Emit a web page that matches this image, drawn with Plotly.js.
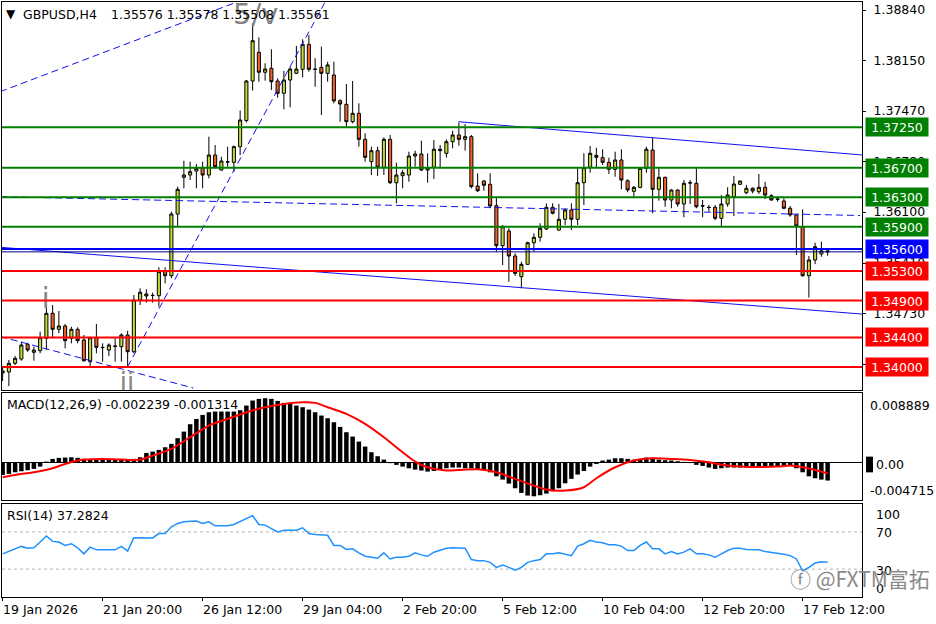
<!DOCTYPE html>
<html><head><meta charset="utf-8">
<script src="https://cdn.plot.ly/plotly-3.0.1.min.js"></script>
<style>html,body{margin:0;padding:0;background:#fff;}#chart{width:936px;height:624px;}</style>
</head><body><div id="chart"></div>
<script>
// ---------- data ----------
const symbolText = 'GBPUSD,H4';
const quoteText = '1.35576 1.35578 1.35508 1.35561';

const open = [1.33919,1.33932,1.3405,1.34108,1.34308,1.34199,1.34221,1.34389,1.34728,1.34511,
1.34556,1.34389,1.34511,1.34366,1.34072,1.34397,1.34267,1.3423,1.34285,1.34275,
1.34434,1.34207,1.34908,1.3499,1.34972,1.34967,1.35292,1.35238,1.36074,1.36572,
1.36603,1.36657,1.36702,1.36603,1.36874,1.36671,1.36784,1.36775,1.36987,1.37342,
1.37878,1.38267,1.37996,1.3805,1.37878,1.37711,1.37891,1.37982,1.38036,1.38375,
1.3804,1.38063,1.37982,1.37959,1.37611,1.37562,1.37326,1.3744,1.37087,1.36784,
1.36933,1.36708,1.37087,1.36499,1.36594,1.36603,1.36861,1.36888,1.36671,1.36708,
1.36952,1.36897,1.37055,1.37146,1.37087,1.37123,1.36454,1.36522,1.36477,1.36187,
1.35645,1.35844,1.35505,1.35224,1.35392,1.35685,1.35758,1.35871,1.36165,1.35857,
1.36003,1.36129,1.36003,1.36499,1.36708,1.3687,1.36838,1.36775,1.3668,1.36807,
1.36526,1.36382,1.36436,1.36694,1.36942,1.36409,1.36572,1.36264,1.364,1.3621,
1.36499,1.36491,1.36187,1.36165,1.36165,1.36016,1.3621,1.36309,1.36477,1.36363,
1.36423,1.36377,1.36436,1.36323,1.36278,1.36251,1.36152,1.36061,1.35902,1.35238,
1.35451,1.35532,1.35576];

const high = [1.34013,1.34095,1.34149,1.34343,1.34329,1.34275,1.34479,1.3484,1.3484,1.34759,
1.34583,1.34546,1.34538,1.34434,1.34411,1.34583,1.34321,1.34321,1.34389,1.34457,
1.34492,1.34976,1.35067,1.35053,1.35007,1.35352,1.35352,1.36106,1.36445,1.36797,
1.36784,1.36752,1.36784,1.37123,1.3701,1.36851,1.36987,1.37003,1.37478,1.37891,
1.3866,1.3847,1.38118,1.38308,1.37914,1.38013,1.38072,1.38352,1.38443,1.38501,
1.38186,1.38343,1.38139,1.38139,1.3763,1.37837,1.37878,1.37575,1.37169,1.36987,
1.36987,1.37114,1.37146,1.3677,1.36671,1.36919,1.36933,1.37068,1.36897,1.37078,
1.3701,1.37087,1.37204,1.37312,1.37295,1.37146,1.36626,1.36535,1.36626,1.36309,
1.35925,1.35881,1.35542,1.35428,1.35699,1.35813,1.35948,1.36219,1.36219,1.3621,
1.36152,1.36219,1.36708,1.36897,1.36996,1.36973,1.36952,1.36838,1.36919,1.36952,
1.36545,1.36454,1.36698,1.36987,1.37114,1.36694,1.3658,1.36409,1.36409,1.36535,
1.36535,1.36694,1.36264,1.36196,1.36196,1.36332,1.36436,1.3659,1.36526,1.36468,
1.36436,1.36617,1.36512,1.36342,1.36309,1.36287,1.36183,1.36074,1.36138,1.35505,
1.35685,1.35699,1.35578];

const low = [1.3381,1.33742,1.34027,1.34085,1.34207,1.34085,1.34186,1.3423,1.34389,1.34457,
1.34253,1.34321,1.34321,1.34072,1.34004,1.34186,1.34072,1.34149,1.34072,1.34072,
1.34004,1.34186,1.3484,1.34872,1.34872,1.34818,1.35135,1.35203,1.35902,1.36423,
1.36535,1.36423,1.36423,1.36558,1.36694,1.36662,1.36716,1.36648,1.36874,1.37315,
1.37749,1.37868,1.37882,1.37756,1.37651,1.37494,1.37521,1.37973,1.37928,1.38004,
1.378,1.37417,1.37868,1.37575,1.37326,1.37258,1.37304,1.36987,1.36784,1.36603,
1.3659,1.36603,1.36481,1.36219,1.36423,1.36512,1.36716,1.36657,1.36499,1.36549,
1.36708,1.36838,1.36965,1.37001,1.36933,1.36423,1.36373,1.3639,1.36152,1.35563,
1.35383,1.35156,1.35234,1.35067,1.35383,1.35563,1.35699,1.35857,1.3607,1.35848,
1.35925,1.35857,1.35925,1.36196,1.36634,1.36708,1.36739,1.36617,1.3658,1.36409,
1.36369,1.36301,1.36423,1.36634,1.36084,1.36255,1.36173,1.36152,1.36173,1.3603,
1.3621,1.36152,1.3603,1.36106,1.3599,1.35902,1.36173,1.36047,1.36468,1.36342,
1.36355,1.36346,1.36278,1.36255,1.36241,1.36138,1.36038,1.35519,1.35224,1.3494,
1.35396,1.35495,1.35508];

const close = [1.33946,1.3405,1.34118,1.34298,1.3423,1.3423,1.34397,1.34728,1.34511,1.34556,
1.34357,1.34511,1.34357,1.34085,1.34397,1.34267,1.34263,1.34298,1.34281,1.34434,
1.34207,1.34908,1.35013,1.34963,1.34969,1.35292,1.35238,1.36074,1.36409,1.36603,
1.36648,1.36694,1.36603,1.36874,1.36716,1.36793,1.36779,1.36987,1.37349,1.37878,
1.38424,1.37996,1.3804,1.37868,1.37711,1.37891,1.3804,1.3804,1.38375,1.38036,
1.38036,1.37982,1.38095,1.37607,1.37566,1.37326,1.3744,1.37087,1.36843,1.36933,
1.36708,1.37087,1.36499,1.36603,1.36634,1.36861,1.36888,1.36671,1.36694,1.36952,
1.36933,1.37055,1.37146,1.37087,1.37123,1.36445,1.3639,1.36464,1.36183,1.35645,
1.35902,1.35505,1.3527,1.35392,1.35685,1.35758,1.35881,1.36165,1.36084,1.36003,
1.36129,1.36003,1.36499,1.36702,1.36897,1.36843,1.36775,1.3668,1.36807,1.36535,
1.364,1.36436,1.36694,1.36952,1.36409,1.36572,1.36264,1.364,1.3621,1.36491,
1.36495,1.36173,1.36183,1.36162,1.36016,1.3621,1.36332,1.36481,1.36522,1.36423,
1.36386,1.36436,1.36332,1.36264,1.36275,1.36152,1.36061,1.35912,1.35238,1.35451,
1.35631,1.35575,1.35561];

const macdHist = [-0.00153,-0.0014,-0.00119,-0.00106,-0.00093,-0.00076,-0.00047,0.00017,0.00051,0.00064,
0.00068,0.00072,0.00064,0.00051,0.00047,0.00042,0.00042,0.00042,0.00038,0.00042,
0.00042,0.00051,0.00072,0.00127,0.00144,0.00165,0.00199,0.00242,0.00314,0.00398,
0.00492,0.00559,0.0061,0.00644,0.00653,0.00653,0.00653,0.00653,0.0067,0.00729,
0.00793,0.00814,0.00822,0.00814,0.00788,0.00763,0.0075,0.00729,0.00708,0.00678,
0.00644,0.00602,0.00568,0.00517,0.00458,0.0039,0.00335,0.00271,0.00208,0.00136,
0.00085,0.00042,-0.00003,-0.00025,-0.00047,-0.00068,-0.00085,-0.00097,-0.0011,-0.00102,
-0.00081,-0.00068,-0.00059,-0.00059,-0.00068,-0.00068,-0.00076,-0.00093,-0.00119,-0.0017,
-0.00212,-0.00263,-0.00322,-0.00381,-0.00415,-0.00424,-0.00411,-0.0039,-0.0036,-0.00322,
-0.00259,-0.00203,-0.00148,-0.00102,-0.00047,-0.00013,0.0003,0.00042,0.00059,0.00059,
0.00051,0.00042,0.00051,0.00068,0.00059,0.00042,0.00034,0.0003,0.00021,0.00013,
-0.00002,-0.00025,-0.00038,-0.00059,-0.00076,-0.00068,-0.00059,-0.00059,-0.00059,-0.00059,
-0.00051,-0.00042,-0.00042,-0.00042,-0.00042,-0.00034,-0.00038,-0.00068,-0.00119,-0.0017,
-0.00195,-0.00212,-0.002239];

const signalBars = [0,2,5,8,10,13,16,19,22,24,27,30,33,36,39,42,45,48,50,52,55,58,61,64,66,68,71,73,76,79,82,85,87,90,93,95,98,101,104,107,110,113,116,119,121,124,126,128,130,132];
const signalVals = [-0.00182,-0.00153,-0.00119,-0.00068,-0.00013,0.00042,0.00051,0.00042,0.00042,0.00093,0.00178,0.00326,0.00475,0.00559,0.00644,0.00708,0.0075,0.00771,0.00763,0.00708,0.00623,0.00496,0.00326,0.00136,0.00017,-0.00055,-0.00097,-0.00089,-0.00081,-0.00119,-0.00203,-0.00288,-0.00339,-0.00352,-0.00309,-0.00195,-0.00055,0.0003,0.00059,0.00051,0.00038,0.00008,-0.00034,-0.00051,-0.00051,-0.00047,-0.00034,-0.00055,-0.00089,-0.001314];

const rsi = [46.4,48.9,51.8,54.4,52.5,52.9,59.1,65.6,59.8,59.1,
55.5,57.3,52.9,46.4,53.6,50.7,50.7,50.7,50.7,54.4,
49.3,63.8,63.5,63.5,63.5,68.2,68.2,75.5,79.1,80.9,
81.6,81.6,79.1,80.9,76.5,76.5,76.5,78,80.9,83.8,
87.5,78,77.3,73.6,70,71.8,71.8,71.8,74.4,68.2,
67.1,66.4,66.4,55.5,55.5,51.1,51.8,47.5,43.8,42.7,
41.6,47.5,40.9,42.7,42.7,43.8,47.5,45.3,43.8,48.2,
50,52.5,52.9,52.9,52.5,40.2,39.1,39.1,37.3,31.8,
34.4,31.8,28.9,31.8,37.3,39.1,40.2,46.4,46.4,47.5,
46.4,44.5,54.7,57.3,60.9,59.1,58.4,56.2,56.2,54.7,
50,50,55.5,59.1,51.8,51.8,46.4,48.9,46.4,48.2,
51.8,46.4,46.4,45.3,42.7,46.4,50,52.5,52.5,51.1,
50.7,50.7,48.9,48.2,47.5,46,44.5,40.9,28.2,31.8,
36.5,38,37.2824];

const tickBars = [0,16,32,48,64,80,96,112,128];
const tickLabels = ['19 Jan 2026','21 Jan 20:00','26 Jan 12:00','29 Jan 04:00','2 Feb 20:00','5 Feb 12:00','10 Feb 04:00','12 Feb 20:00','17 Feb 12:00'];
const priceTicks = [1.3884,1.3815,1.3747,1.3678,1.361,1.3541,1.3473,1.3404];

const levels = [1.3725,1.367,1.363,1.359,1.356,1.353,1.349,1.344,1.34];
const levelColors = ['#008000','#008000','#008000','#008000','#0000ff','#ff0000','#ff0000','#ff0000','#ff0000'];

// trend lines: [bar0, bar1], [price0, price1], dashed?
const trendBars = [[-0.4,37.5],[20,51.6],[-0.4,30.5],[-0.4,137.5],[72.9,137.6],[-0.4,137.2]];
const trendPrices = [[1.37733,1.38949],[1.34004,1.3895],[1.34413,1.33715],[1.35623,1.34718],[1.37326,1.36874],[1.36309,1.36054]];
const trendDashed = [true,true,true,false,false,true];

const waveLabels = ['5/v','i','ii'];
const waveBars = [40.5,6.9,19.9];
const wavePrices = [1.38746,1.34894,1.33769];
const waveSizes = [29,28,26];

const macdLabel = 'MACD(12,26,9) -0.002239 -0.001314';
const rsiLabel = 'RSI(14) 37.2824';
const macdAxis = [0.008889,0,-0.004715];
const macdAxisText = ['0.008889','0.00','-0.004715'];
const rsiAxis = [100,70,30,0];
const rsiLevels = [70,30];

// ---------- build ----------
const FONT = 'DejaVu Sans';
const FS = 12.5;
const idx = close.map((_, i) => i);
const last = close[close.length - 1];

const traces = [];
traces.push({
  type: 'candlestick', x: idx, open: open, high: high, low: low, close: close,
  xaxis: 'x', yaxis: 'y', hoverinfo: 'skip',
  increasing: {fillcolor: '#c8da3a', line: {color: '#000', width: 1}},
  decreasing: {fillcolor: '#f0642a', line: {color: '#000', width: 1}},
  whiskerwidth: 0
});
trendBars.forEach((b, k) => {
  traces.push({type: 'scatter', mode: 'lines', x: b, y: trendPrices[k], xaxis: 'x', yaxis: 'y',
    hoverinfo: 'skip', line: {color: '#1010f0', width: 1, dash: trendDashed[k] ? '7px,4px' : 'solid'}});
});
traces.push({type: 'scatter', mode: 'text', x: waveBars, y: wavePrices, text: waveLabels,
  textposition: 'middle center', cliponaxis: true, xaxis: 'x', yaxis: 'y', hoverinfo: 'skip',
  textfont: {family: FONT, size: waveSizes, color: '#858585'}});
traces.push({type: 'bar', x: idx, y: macdHist, xaxis: 'x2', yaxis: 'y2', width: 0.72,
  marker: {color: '#000', line: {width: 0}}, hoverinfo: 'skip'});
traces.push({type: 'scatter', mode: 'lines', x: signalBars, y: signalVals, xaxis: 'x2', yaxis: 'y2',
  line: {color: '#ff0000', width: 2, shape: 'spline', smoothing: 0.8}, hoverinfo: 'skip'});
traces.push({type: 'scatter', mode: 'lines', x: idx, y: rsi, xaxis: 'x3', yaxis: 'y3',
  line: {color: '#1e90ff', width: 1.5}, hoverinfo: 'skip'});

const shapes = [];
levels.forEach((lv, k) => {
  shapes.push({type: 'line', xref: 'paper', x0: 0, x1: 1, yref: 'y', y0: lv, y1: lv, layer: 'above',
    line: {color: levelColors[k], width: 2}});
});
shapes.push({type: 'line', xref: 'paper', x0: 0, x1: 1, yref: 'y', y0: last, y1: last, layer: 'above',
  line: {color: '#000080', width: 1}});
rsiLevels.forEach(v => {
  shapes.push({type: 'line', xref: 'paper', x0: 0, x1: 1, yref: 'y3', y0: v, y1: v, layer: 'below',
    line: {color: '#b4b4b4', width: 1, dash: 'dot'}});
});
// current MACD value marker box behind the zero label
shapes.push({type: 'rect', xref: 'paper', x0: 1.0047, x1: 1.0128, yref: 'y2', y0: -0.0012, y1: 0.0008,
  fillcolor: '#000', line: {width: 0}, layer: 'above'});

const annotations = [];
const txt = (text, o) => Object.assign({text: text, showarrow: false, font: {family: FONT, size: FS, color: '#000'}}, o);
annotations.push(txt('\u25BC', {xref: 'paper', x: 0, xanchor: 'left', xshift: 2, yref: 'paper', y: 1, yanchor: 'top', yshift: -3, font: {family: FONT, size: 12, color: '#000'}}));
annotations.push(txt(symbolText, {xref: 'paper', x: 0, xanchor: 'left', xshift: 19, yref: 'paper', y: 1, yanchor: 'top', yshift: -3}));
annotations.push(txt(quoteText, {xref: 'paper', x: 0, xanchor: 'left', xshift: 107, yref: 'paper', y: 1, yanchor: 'top', yshift: -3}));
annotations.push(txt(macdLabel, {xref: 'paper', x: 0, xanchor: 'left', xshift: 3, yref: 'paper', y: 0.3429, yanchor: 'top', yshift: -2}));
annotations.push(txt(rsiLabel, {xref: 'paper', x: 0, xanchor: 'left', xshift: 3, yref: 'paper', y: 0.1563, yanchor: 'top', yshift: -2}));
levels.forEach((lv, k) => {
  annotations.push(txt(lv.toFixed(5), {xref: 'paper', x: 1, xanchor: 'left', xshift: 3, yref: 'y', y: lv, yanchor: 'middle',
    bgcolor: levelColors[k], borderpad: 2, width: 58, height: 14, align: 'center', font: {family: FONT, size: FS, color: '#fff'}}));
});
const macdShift = [-13, -2, 10];
macdAxis.forEach((v, k) => {
  annotations.push(txt(macdAxisText[k], {xref: 'paper', x: 1, xanchor: 'left', xshift: k === 1 ? 12 : 6, yref: 'y2', y: v, yanchor: 'middle', yshift: macdShift[k]}));
});
const rsiShift = [-10, -1, -1, 9];
rsiAxis.forEach((v, k) => {
  annotations.push(txt(String(v), {xref: 'paper', x: 1, xanchor: 'left', xshift: 12, yref: 'y3', y: v, yanchor: 'middle', yshift: rsiShift[k]}));
});
tickBars.forEach((b, k) => {
  annotations.push(txt(tickLabels[k], {xref: 'x3', x: b, xanchor: 'left', xshift: -2, yref: 'paper', y: 0, yanchor: 'top', yshift: -3}));
});
annotations.push({text: '\u24D5 @FXTM富拓', showarrow: false, xref: 'paper', x: 1, xanchor: 'right', xshift: 70, yref: 'paper', y: 0, yanchor: 'bottom', yshift: 2,
  font: {family: 'Noto Sans CJK SC', size: 21, color: '#8a8a8a'}});

const axBase = {showgrid: false, zeroline: false, showline: true, mirror: true, linecolor: '#000', linewidth: 1, fixedrange: true};
const layout = {
  width: 936, height: 624,
  margin: {l: 2, r: 74, t: 2, b: 27, pad: 0},
  paper_bgcolor: '#fff', plot_bgcolor: '#fff',
  showlegend: false,
  font: {family: FONT, size: FS, color: '#000'},
  boxgap: 0.3,
  xaxis: Object.assign({}, axBase, {domain: [0, 1], anchor: 'y', range: [-0.1, 137.5], showticklabels: false, ticks: '', rangeslider: {visible: false}}),
  xaxis2: Object.assign({}, axBase, {domain: [0, 1], anchor: 'y2', matches: 'x', showticklabels: false, ticks: ''}),
  xaxis3: Object.assign({}, axBase, {domain: [0, 1], anchor: 'y3', matches: 'x', tickmode: 'array', tickvals: tickBars, ticks: 'outside', ticklen: 3, tickcolor: '#000', showticklabels: false}),
  yaxis: Object.assign({}, axBase, {domain: [0.3479, 1], anchor: 'x', side: 'right', range: [1.33688, 1.38949],
    tickmode: 'array', tickvals: priceTicks, ticktext: priceTicks.map(v => v.toFixed(5)), ticks: 'outside', ticklen: 3, tickcolor: '#000',
    ticklabelstandoff: 5, tickfont: {family: FONT, size: FS, color: '#000'}}),
  yaxis2: Object.assign({}, axBase, {domain: [0.1630, 0.3429], anchor: 'x2', side: 'right', range: [-0.004715, 0.008889],
    showticklabels: false, ticks: '', zeroline: true, zerolinecolor: '#000', zerolinewidth: 1}),
  yaxis3: Object.assign({}, axBase, {domain: [0, 0.1563], anchor: 'x3', side: 'right', range: [0, 100], showticklabels: false, ticks: ''}),
  shapes: shapes,
  annotations: annotations
};
Plotly.newPlot('chart', traces, layout, {staticPlot: true, displayModeBar: false});
</script>
</body></html>
